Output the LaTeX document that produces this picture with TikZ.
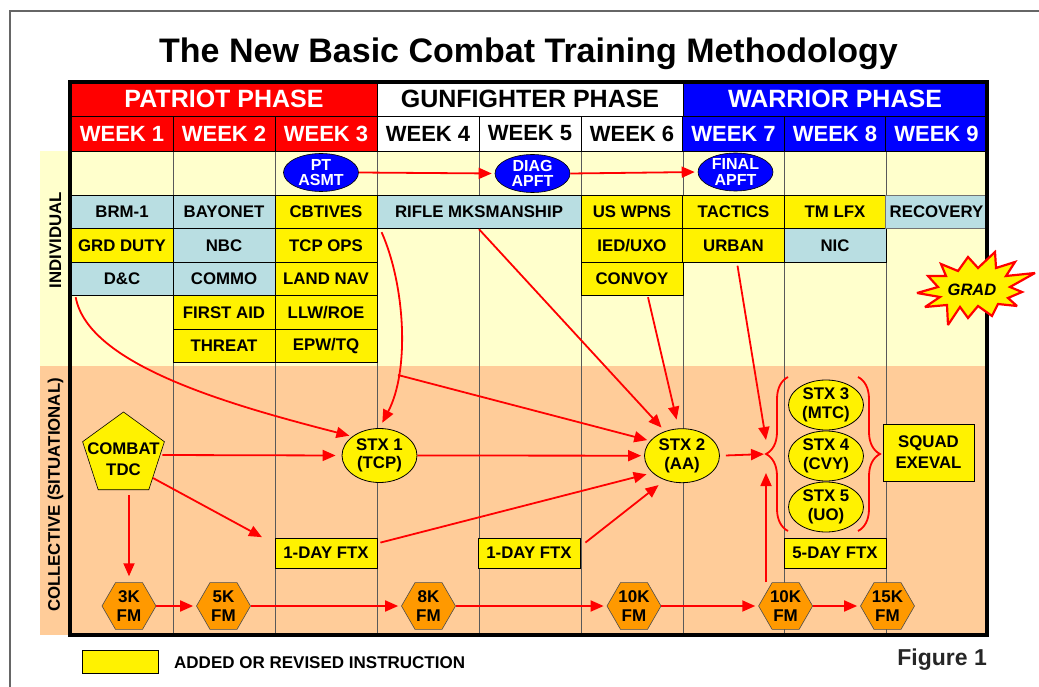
\documentclass[tikz,border=0pt]{standalone}
\usepackage{fontspec}
\setmainfont{Liberation Sans}
\usetikzlibrary{shapes.geometric,arrows.meta,decorations.pathreplacing,calc}
\newcommand\fsz[2]{\fontsize{#1}{#2}\selectfont}
\definecolor{lblue}{RGB}{185,222,226}
\definecolor{indbg}{RGB}{255,255,204}
\definecolor{colbg}{RGB}{255,204,153}
\definecolor{fmorange}{RGB}{255,153,0}
\definecolor{ovblue}{RGB}{0,0,255}
\definecolor{pred}{RGB}{255,0,0}
\tikzset{
  hd/.style={draw=black, line width=0.8pt, minimum height=34, inner sep=0, font=\bfseries\fsz{25}{27}},
  wk/.style={draw=black, line width=0.8pt, minimum width=101.8, minimum height=35, inner sep=0, font=\bfseries\fsz{22}{24}},
  cell/.style={draw=black, line width=0.8pt, minimum width=101.8, minimum height=33.6, inner sep=0, font=\bfseries\fsz{16.8}{18}},
  bcell/.style={cell, fill=lblue},
  ycell/.style={cell, fill=yellow},
  oval/.style={ellipse, draw=black, line width=0.6pt, fill=ovblue, text=white, minimum width=75, minimum height=38, inner sep=-5pt, align=center, font=\bfseries\fsz{16}{15.5}},
  stx/.style={ellipse, draw=black, line width=0.8pt, fill=yellow, minimum width=75, minimum height=54, inner sep=0, align=center, font=\bfseries\fsz{16.8}{18.5}},
  ybox/.style={draw=black, line width=0.8pt, fill=yellow, inner sep=0, align=center, font=\bfseries\fsz{16.8}{21}},
  hexa/.style={regular polygon, regular polygon sides=6, minimum size=54, inner sep=0, fill=fmorange, draw=black!70, line width=0.6pt, align=center, font=\bfseries\fsz{17}{19.5}},
  arr/.style={pred, line width=1.8pt, -{Triangle[length=13pt,width=11pt]}, shorten >=3pt},
  colline/.style={black!65, line width=1pt},
  sidelbl/.style={rotate=90, font=\bfseries\fsz{16.8}{18}},
}
\begin{document}
\begin{tikzpicture}[x=1pt,y=-1pt]
\useasboundingbox (0,0) rectangle (1039,687);
% outer frame
\draw[black!60, line width=1.3pt] (10,687) -- (10,11) -- (1039,11);
% title
\node[font=\bfseries\fsz{34}{36}, anchor=base] (title) at (528.5,63) {The New Basic Combat Training Methodology};
% backgrounds
\fill[indbg] (40,151) rectangle (987,366);
\fill[colbg] (40,366) rectangle (987,635);
% column lines
\foreach \cx in {173,275,377,479,581,683,784,886}
  \draw[colline] (\cx,151) -- (\cx,635);
% side labels
\node[sidelbl] (indiv) at (55.5,240) {INDIVIDUAL};
\node[sidelbl] (collect) at (55.5,495) {COLLECTIVE (SITUATIONAL)};
% phase headers
\node[hd, fill=pred, text=white, minimum width=306] (patriot) at (224,99) {PATRIOT PHASE};
\node[hd, fill=white, minimum width=306] (gunf) at (530,99) {GUNFIGHTER PHASE};
\node[hd, fill=ovblue, text=white, minimum width=304] (warrior) at (835,99) {WARRIOR PHASE};
% week headers
\node[wk, fill=pred, text=white] (w1) at (122,133.5) {WEEK 1};
\node[wk, fill=pred, text=white] (w2) at (224,133.5) {WEEK 2};
\node[wk, fill=pred, text=white] (w3) at (326,133.5) {WEEK 3};
\node[wk, fill=white] (w4) at (428,133.5) {WEEK 4};
\node[wk, fill=white] (w5) at (530,133.5) {WEEK 5};
\node[wk, fill=white] (w6) at (632,133.5) {WEEK 6};
\node[wk, fill=ovblue, text=white] (w7) at (733.5,133.5) {WEEK 7};
\node[wk, fill=ovblue, text=white] (w8) at (835,133.5) {WEEK 8};
\node[wk, fill=ovblue, text=white] (w9) at (936.5,133.5) {WEEK 9};
% individual cells
\node[bcell] (brm) at (122,212) {BRM-1};
\node[ycell] (grd) at (122,245.5) {GRD DUTY};
\node[bcell] (dc) at (122,279) {D\&C};
\node[bcell] (bay) at (224,212) {BAYONET};
\node[bcell] (nbc) at (224,245.5) {NBC};
\node[bcell] (commo) at (224,279) {COMMO};
\node[ycell] (faid) at (224,312.5) {FIRST AID};
\node[ycell] (threat) at (224,346) {THREAT};
\node[ycell] (cbt) at (326,212) {CBTIVES};
\node[ycell] (tcp) at (326,245.5) {TCP OPS};
\node[ycell] (lnav) at (326,279) {LAND NAV};
\node[ycell] (llw) at (326,312.5) {LLW/ROE};
\node[ycell] (epw) at (326,346) {EPW/TQ};
\node[bcell, minimum width=204] (rifle) at (479,212) {RIFLE MKSMANSHIP};
\node[ycell] (uswp) at (632,212) {US WPNS};
\node[ycell] (ied) at (632,245.5) {IED/UXO};
\node[ycell] (convoy) at (632,279) {CONVOY};
\node[ycell] (tactics) at (733.5,212) {TACTICS};
\node[ycell] (urban) at (733.5,245.5) {URBAN};
\node[ycell] (tmlfx) at (835,212) {TM LFX};
\node[bcell] (nic) at (835,245.5) {NIC};
\node[bcell, draw=black!55] (recov) at (936.5,212) {RECOVERY};
% ovals
\node[oval] (pt) at (321,172.5) {PT\\ASMT};
\node[oval] (diag) at (532.5,173.5) {DIAG\\APFT};
\node[oval] (final) at (735.5,172) {FINAL\\APFT};
% collective nodes
\node[regular polygon, regular polygon sides=5, minimum size=86, inner sep=0, fill=yellow, draw=black, line width=0.6pt] (tdc) at (123.5,455) {};
\node[align=center, font=\bfseries\fsz{16.8}{21}] (tdct) at (123.5,459) {COMBAT\\TDC};
\node[stx] (stx1) at (379.5,455.5) {STX 1\\(TCP)};
\node[stx] (stx2) at (682,455.7) {STX 2\\(AA)};
\node[stx, minimum height=50] (stx3) at (826,405) {STX 3\\(MTC)};
\node[stx, minimum height=50] (stx4) at (826,456) {STX 4\\(CVY)};
\node[stx, minimum height=50] (stx5) at (826,507) {STX 5\\(UO)};
\node[ybox, minimum width=102, minimum height=30] (ftx1) at (326,553) {1-DAY FTX};
\node[ybox, minimum width=102, minimum height=30] (ftx2) at (529,553) {1-DAY FTX};
\node[ybox, minimum width=102, minimum height=30] (ftx5) at (835,553) {5-DAY FTX};
\node[ybox, minimum width=91, minimum height=57] (squad) at (928.5,452.5) {SQUAD\\EXEVAL};
\node[hexa] (k3) at (129,606) {3K\\FM};
\node[hexa] (k5) at (223.5,606) {5K\\FM};
\node[hexa] (k8) at (428.5,606) {8K\\FM};
\node[hexa] (k10a) at (634,606) {10K\\FM};
\node[hexa] (k10b) at (785.6,606) {10K\\FM};
\node[hexa] (k15) at (887.5,606) {15K\\FM};
% braces
\coordinate (bl) at (766,454);
\draw[pred, line width=1.8pt, decorate, decoration={brace, amplitude=22pt}] (788,531) -- (788,377);
\draw[pred, line width=1.8pt, decorate, decoration={brace, amplitude=22pt}] (858,377) -- (858,531);
% arrows
\draw[arr] (pt.east) -- (diag.west);
\draw[arr] (diag.east) -- (final.west);
\draw[arr] ($(dc.south west)+(5,1)$) .. controls (88,365) and (230,405) .. (stx1.145);
\draw[arr, shorten <=2pt, shorten >=6pt] (tdc.east) -- (stx1.west);
\draw[arr] (tdc.-38) -- ($(ftx1.north west)+(-10,1)$);
\draw[arr, shorten <=5pt, shorten >=6pt] (tdc.south -| k3.north) -- (k3.north);
\draw[arr] (k3.east) -- (k5.west);
\draw[arr] (k5.east) -- (k8.west);
\draw[arr] (k8.east) -- (k10a.west);
\draw[arr] (k10a.east) -- (k10b.west);
\draw[arr] (k10b.east) -- (k15.west);
\draw[arr, shorten >=0pt] (bl |- k10b.north) -- ($(bl)+(0,19)$);
\draw[arr] (stx1.east) -- (stx2.west);
\draw[arr, shorten >=6pt] ($(rifle.south west)+(5,3)$) .. controls (405,285) and (410,370) .. (stx1.north);
\coordinate (br) at (398,375);
\draw[arr] (br) -- (stx2.155);
\draw[arr, shorten >=5pt] (rifle.south) -- (stx2.125);
\draw[arr, shorten >=9pt] ($(convoy.south)+(16,1)$) -- (stx2.97);
\draw[arr, shorten >=6pt] ($(ftx1.north east)+(3,5)$) -- (stx2.210);
\draw[arr, shorten >=8pt] ($(ftx2.north east)+(5,5)$) -- (stx2.235);
\draw[arr, shorten >=0pt] ($(urban.south)+(4,3)$) -- ($(bl)+(0,-14)$);
\draw[arr, shorten <=6pt, shorten >=2pt] (stx2.east) -- (bl);
% thick table border
\draw[black, line width=3.3pt] (70,82) rectangle (987,635);
% GRAD starburst
\filldraw[fill=yellow, draw=pred, line width=2.2pt, line join=miter, miter limit=3]
  (917,293) -- (938,287) -- (928,276) -- (946,276) -- (941,264) -- (958,271) -- (968,257) -- (978,268) -- (995,252) -- (996,268) -- (1015,262) -- (1006,276) -- (1035,273) -- (1010,287) -- (1022,292) -- (1008,298) -- (1017,306) -- (998,304) -- (992,316) -- (978,306) -- (968,318) -- (960,307) -- (948,325) -- (947,305) -- (925,307) -- (940,297) -- cycle;
\node[font=\bfseries\itshape\fsz{16.5}{18}] (grad) at (972,290) {GRAD};
% legend
\node[draw=black, line width=0.8pt, fill=yellow, minimum width=76, minimum height=23, inner sep=0] (legbox) at (120,661.5) {};
\node[anchor=west, inner sep=0, font=\bfseries\fsz{17}{18}] (legtxt) at (174,663) {ADDED OR REVISED INSTRUCTION};
\node[anchor=east, inner sep=0, text=black!85, font=\bfseries\fsz{23}{25}] (fig) at (987,660) {Figure 1};
\end{tikzpicture}
\end{document}
